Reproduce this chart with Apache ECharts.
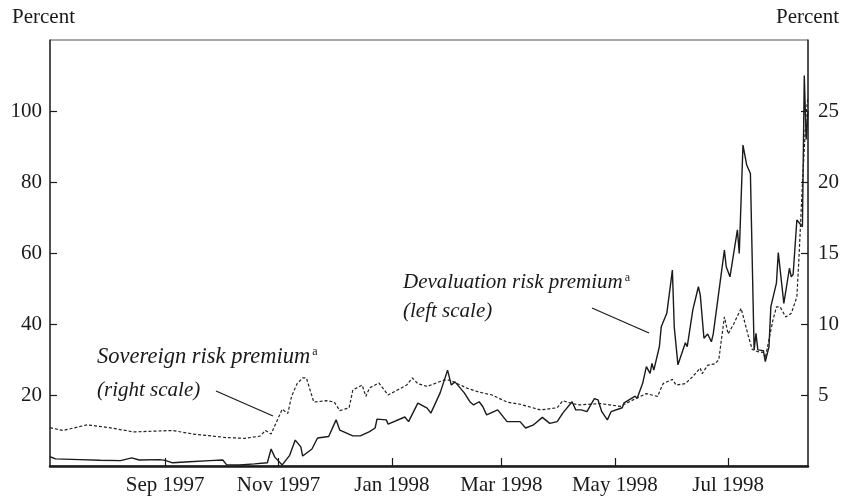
<!DOCTYPE html>
<html>
<head>
<meta charset="utf-8">
<script src="https://cdn.jsdelivr.net/npm/echarts@6/dist/echarts.min.js"></script>
<style>
  html, body { margin: 0; padding: 0; background: #fff; }
  #chart { width: 846px; height: 499px; }
</style>
</head>
<body>
<div id="chart"></div>
<script>
// days counted from 1 Jul 1997
const devDays = [0, 3, 16, 27, 38, 44, 48, 59, 62, 66,
  75, 86, 93, 95, 102, 110, 117, 119, 121, 125,
  129, 132, 135, 136, 141, 144, 150, 154, 156, 163,
  167, 172, 175, 176, 181, 182, 191, 193, 198, 203,
  205, 210, 211, 214, 216, 218, 219, 223, 226, 228,
  231, 233, 235, 241, 246, 253, 256, 260, 265, 269,
  273, 276, 281, 283, 286, 289, 293, 295, 297, 300,
  302, 308, 309, 315, 316, 319, 321, 323, 324, 325,
  328, 329, 332, 335, 336, 337, 338, 342, 343, 346,
  349, 350, 351, 352, 354, 356, 357, 358, 363, 364,
  365, 366, 370, 371, 372, 373, 375, 377, 379, 380,
  381, 384, 385, 387, 388, 391, 392, 395, 398, 399,
  400, 402, 405, 406, 407, 408]
// devaluation risk premium, left scale (percent)
const devValues = [2.6, 2.0, 1.8, 1.6, 1.5, 2.3, 1.7, 1.8, 1.6, 0.9,
  1.2, 1.5, 1.7, 0.4, 0.3, 0.6, 0.9, 4.8, 2.5, 0.3,
  3.0, 7.3, 5.4, 2.8, 4.8, 7.9, 8.3, 13.0, 10.1, 8.5,
  8.5, 9.7, 10.7, 13.2, 13.0, 11.8, 13.8, 12.5, 17.7, 16.3,
  14.9, 20.6, 20.6, 27.0, 22.8, 23.7, 24.0, 20.6, 18.1, 17.2,
  18.1, 16.7, 14.4, 15.8, 12.5, 12.5, 10.7, 11.5, 13.7, 12.0,
  12.5, 14.9, 18.1, 15.8, 15.8, 15.3, 19.0, 18.6, 15.3, 13.0,
  15.3, 16.4, 17.8, 19.7, 19.0, 23.3, 28.0, 26.1, 28.9, 27.0,
  33.6, 39.2, 43.0, 55.2, 39.2, 39.2, 28.5, 34.7, 33.6, 44.0,
  50.5, 48.2, 48.2, 36.0, 37.2, 35.0, 37.2, 37.4, 60.8, 56.1,
  56.1, 53.3, 66.5, 59.9, 59.9, 90.4, 84.8, 82.4, 32.7, 37.4,
  32.7, 32.5, 29.4, 33.6, 44.9, 51.5, 60.1, 45.8, 55.7, 53.3,
  54.0, 69.3, 67.4, 110, 92, 100]

const sovDays = [0, 7, 20, 32, 45, 66, 77, 95, 105, 113,
  116, 119, 125, 128, 130, 133, 136, 138, 142, 149,
  153, 156, 161, 163, 168, 170, 172, 177, 182, 192,
  195, 198, 203, 212, 215, 221, 224, 231, 238, 246,
  253, 264, 273, 276, 281, 285, 296, 307, 316, 321,
  327, 330, 335, 337, 342, 346, 350, 351, 354, 358,
  360, 363, 365, 368, 372, 373, 376, 378, 381, 384,
  385, 389, 391, 393, 396, 399, 402, 403, 404, 405,
  407, 408]
// sovereign risk premium, right scale (percent)
const sovValues = [2.7, 2.5, 2.9, 2.7, 2.4, 2.5, 2.25, 2.0, 1.95, 2.1,
  2.5, 2.25, 4.0, 3.7, 4.9, 5.8, 6.2, 6.2, 4.5, 4.6,
  4.5, 3.9, 4.1, 5.35, 5.7, 4.9, 5.5, 5.85, 5.0, 5.7,
  6.2, 5.8, 5.6, 6.05, 6.05, 5.7, 5.5, 5.2, 5.0, 4.5,
  4.35, 3.95, 4.1, 4.6, 4.4, 4.3, 4.4, 4.2, 4.8, 5.1,
  4.9, 5.8, 6.1, 5.7, 5.8, 6.3, 6.9, 6.5, 7.1, 7.2,
  7.5, 10.5, 9.3, 10.0, 11.1, 11.0, 9.1, 8.2, 8.05, 8.0,
  7.6, 10.2, 11.2, 11.2, 10.5, 10.75, 11.9, 14.3, 17.1, 19.9,
  24.8, 26]

// x-axis tick positions (first of month, days from 1 Jul 1997) and labels
const tickDays = [62, 123, 184, 243, 304, 365]
const tickLabels = ['Sep 1997', 'Nov 1997', 'Jan 1998', 'Mar 1998', 'May 1998', 'Jul 1998']
const leftTicks = [20, 40, 60, 80, 100]
const rightTicks = [5, 10, 15, 20, 25]

const FONT = '"Liberation Serif", "DejaVu Serif", serif'
const INK = '#1a1a1a'

const chart = echarts.init(document.getElementById('chart'))
chart.setOption({
  animation: false,
  backgroundColor: '#fff',
  grid: {
    left: 50, right: 38, top: 40, bottom: 33,
    show: true, borderColor: '#555', borderWidth: 1
  },
  xAxis: {
    type: 'value',
    min: 0,
    max: 408,
    splitLine: { show: false },
    axisLine: { show: true, lineStyle: { color: INK, width: 2.5 } },
    axisTick: {
      show: true, inside: true, length: 8,
      customValues: tickDays,
      lineStyle: { color: INK, width: 1.2 }
    },
    axisLabel: {
      customValues: tickDays,
      margin: 9,
      color: INK,
      fontFamily: FONT,
      fontSize: 21,
      formatter: (v) => tickLabels[tickDays.indexOf(v)] || ''
    }
  },
  yAxis: [
    {
      type: 'value',
      min: 0, max: 120,
      splitLine: { show: false },
      axisLine: { show: true, lineStyle: { color: '#333', width: 1.5 } },
      axisTick: {
        show: true, inside: true, length: 7,
        customValues: leftTicks,
        lineStyle: { color: INK, width: 1.2 }
      },
      axisLabel: {
        customValues: leftTicks,
        margin: 8,
        color: INK,
        fontFamily: FONT,
        fontSize: 21
      }
    },
    {
      type: 'value',
      min: 0, max: 30,
      position: 'right',
      splitLine: { show: false },
      axisLine: { show: true, lineStyle: { color: '#333', width: 1.5 } },
      axisTick: {
        show: true, inside: true, length: 7,
        customValues: rightTicks,
        lineStyle: { color: INK, width: 1.2 }
      },
      axisLabel: {
        customValues: rightTicks,
        margin: 10,
        color: INK,
        fontFamily: FONT,
        fontSize: 21
      }
    }
  ],
  series: [
    {
      name: 'Devaluation risk premium',
      type: 'line',
      yAxisIndex: 0,
      showSymbol: false,
      data: devDays.map((d, i) => [d, devValues[i]]),
      lineStyle: { color: INK, width: 1.4 }
    },
    {
      name: 'Sovereign risk premium',
      type: 'line',
      yAxisIndex: 1,
      showSymbol: false,
      data: sovDays.map((d, i) => [d, sovValues[i]]),
      lineStyle: { color: '#222', width: 1.2, type: [3, 2] }
    }
  ],
  graphic: [
    { type: 'text', left: 12, top: 7,
      style: { text: 'Percent', font: '21px ' + FONT, fill: INK } },
    { type: 'text', right: 7, top: 7,
      style: { text: 'Percent', font: '21px ' + FONT, fill: INK } },
    // annotation: sovereign
    { type: 'text', x: 97, y: 357,
      style: {
        text: '{t|Sovereign risk premium}{s|a}',
        verticalAlign: 'middle',
        rich: {
          t: { fontFamily: FONT, fontStyle: 'italic', fontSize: 22.5, fill: INK },
          s: { fontFamily: FONT, fontSize: 12, fill: INK, verticalAlign: 'top', padding: [0, 0, 0, 2] }
        }
      } },
    { type: 'text', x: 97, y: 390,
      style: { text: '(right scale)', font: 'italic 21px ' + FONT, fill: INK, verticalAlign: 'middle' } },
    { type: 'line', shape: { x1: 216, y1: 391, x2: 273, y2: 416 },
      style: { stroke: INK, lineWidth: 1.2 } },
    // annotation: devaluation
    { type: 'text', x: 403, y: 282,
      style: {
        text: '{t|Devaluation risk premium}{s|a}',
        verticalAlign: 'middle',
        rich: {
          t: { fontFamily: FONT, fontStyle: 'italic', fontSize: 21, fill: INK },
          s: { fontFamily: FONT, fontSize: 12, fill: INK, verticalAlign: 'top', padding: [0, 0, 0, 2] }
        }
      } },
    { type: 'text', x: 403, y: 311,
      style: { text: '(left scale)', font: 'italic 21px ' + FONT, fill: INK, verticalAlign: 'middle' } },
    { type: 'line', shape: { x1: 592, y1: 308, x2: 649, y2: 333 },
      style: { stroke: INK, lineWidth: 1.2 } }
  ]
})
</script>
</body>
</html>
